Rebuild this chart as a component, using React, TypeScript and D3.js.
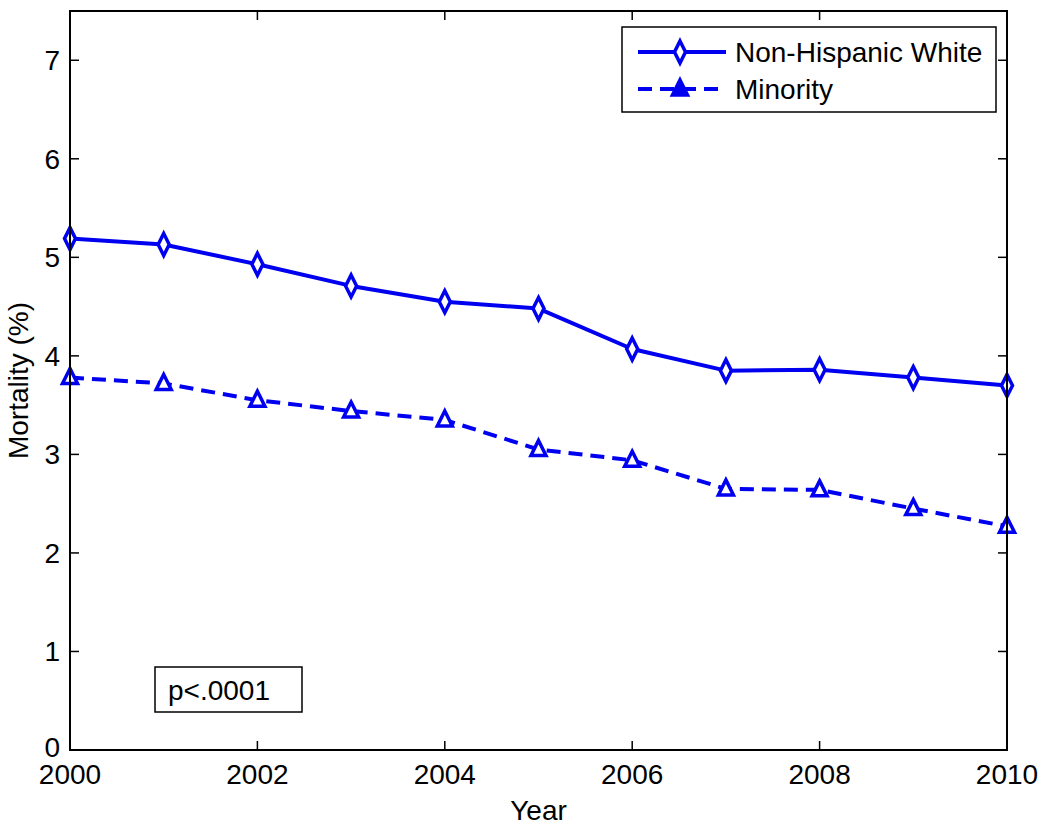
import React from "react";
import * as d3 from "d3";

const years = [2000, 2001, 2002, 2003, 2004, 2005, 2006, 2007, 2008, 2009, 2010];
const whiteValues = [5.19, 5.13, 4.93, 4.71, 4.55, 4.48, 4.07, 3.85, 3.86, 3.78, 3.70];
const minorityValues = [3.78, 3.72, 3.55, 3.44, 3.35, 3.05, 2.94, 2.65, 2.64, 2.45, 2.27];
const xTicks = [2000, 2002, 2004, 2006, 2008, 2010];
const yTicks = [0, 1, 2, 3, 4, 5, 6, 7];
const seriesNames = ["Non-Hispanic White", "Minority"];

const W = 1050, H = 834;
const L = 70, R = 1007, T = 11, B = 750;
const BLUE = "#0000f0";
const FONT = "'Liberation Sans', Arial, sans-serif";
const FS = 28;

export default function App() {
  const x = d3.scaleLinear().domain([2000, 2010]).range([L, R]);
  const y = d3.scaleLinear().domain([0, 7.5]).range([B, T]);
  const line = d3.line<number>().x((_, i) => x(years[i])).y((d) => y(d));

  const diamond = (cx: number, cy: number, k = 1) =>
    `M${cx},${cy - 11 * k}L${cx + 5.5 * k},${cy}L${cx},${cy + 11 * k}L${cx - 5.5 * k},${cy}Z`;
  const tri = (cx: number, cy: number, k = 1) =>
    `M${cx},${cy - 9 * k}L${cx + 7.5 * k},${cy + 6 * k}L${cx - 7.5 * k},${cy + 6 * k}Z`;

  const tickLen = 9;

  return (
    <svg width={W} height={H} style={{ position: "absolute", left: 0, top: 0, background: "#fff" }}>
      <rect x={0} y={0} width={W} height={H} fill="#fff" />
      {xTicks.map((t) => (
        <g key={"xt" + t}>
          <line x1={x(t)} x2={x(t)} y1={B} y2={B - tickLen} stroke="#000" strokeWidth={1.5} />
          <line x1={x(t)} x2={x(t)} y1={T} y2={T + tickLen} stroke="#000" strokeWidth={1.5} />
          <text x={x(t)} y={784} textAnchor="middle" fontFamily={FONT} fontSize={FS} fill="#000">
            {t}
          </text>
        </g>
      ))}
      {yTicks.map((t) => (
        <g key={"yt" + t}>
          <line x1={L} x2={L + tickLen} y1={y(t)} y2={y(t)} stroke="#000" strokeWidth={1.5} />
          <line x1={R} x2={R - tickLen} y1={y(t)} y2={y(t)} stroke="#000" strokeWidth={1.5} />
          <text x={60} y={y(t) + (t === 0 ? 7 : 10)} textAnchor="end" fontFamily={FONT} fontSize={FS} fill="#000">
            {t}
          </text>
        </g>
      ))}
      <text x={(L + R) / 2} y={820} textAnchor="middle" fontFamily={FONT} fontSize={FS} fill="#000">
        Year
      </text>
      <text
        transform={`translate(28,${(T + B) / 2}) rotate(-90)`}
        textAnchor="middle"
        fontFamily={FONT}
        fontSize={FS}
        fill="#000"
      >
        Mortality (%)
      </text>

      <path d={line(whiteValues) || ""} fill="none" stroke={BLUE} strokeWidth={4} strokeLinejoin="round" />
      <path
        d={line(minorityValues) || ""}
        fill="none"
        stroke={BLUE}
        strokeWidth={4}
        strokeDasharray="14 8"
      />
      {whiteValues.map((v, i) => (
        <path key={"wm" + i} d={diamond(x(years[i]), y(v))} fill="#fff" stroke={BLUE} strokeWidth={3.5} />
      ))}
      {minorityValues.map((v, i) => (
        <path key={"mm" + i} d={tri(x(years[i]), y(v))} fill="#fff" stroke={BLUE} strokeWidth={3.5} />
      ))}

      <rect x={L} y={T} width={R - L} height={B - T} fill="none" stroke="#000" strokeWidth={2} />

      <rect x={622} y={27} width={374} height={85} fill="#fff" stroke="#000" strokeWidth={1.5} />
      <line x1={638} x2={726} y1={52} y2={52} stroke={BLUE} strokeWidth={4} />
      <path d={diamond(680, 52)} fill="#fff" stroke={BLUE} strokeWidth={3.5} />
      <text x={735} y={62} fontFamily={FONT} fontSize={FS} fill="#000">
        {seriesNames[0]}
      </text>
      <line x1={638} x2={726} y1={89} y2={89} stroke={BLUE} strokeWidth={4} strokeDasharray="14 8" />
      <path d={tri(680, 89)} fill={BLUE} stroke={BLUE} strokeWidth={3.5} />
      <text x={735} y={99} fontFamily={FONT} fontSize={FS} fill="#000">
        {seriesNames[1]}
      </text>

      <rect x={155} y={667} width={147} height={45} fill="#fff" stroke="#000" strokeWidth={1.5} />
      <text x={168} y={700} fontFamily={FONT} fontSize={FS} fill="#000">
        p&lt;.0001
      </text>
    </svg>
  );
}
